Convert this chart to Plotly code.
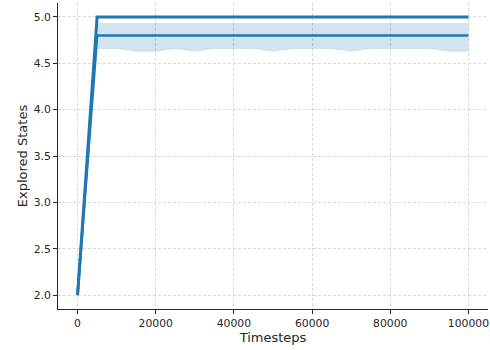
import plotly.graph_objects as go

# Evaluation steps
timesteps = [0, 5000, 10000, 15000, 20000, 25000, 30000, 35000, 40000, 45000, 50000,
             55000, 60000, 65000, 70000, 75000, 80000, 85000, 90000, 95000, 100000]

# Explored states: best run and mean across runs
max_states = [2.0, 5.0, 5.0, 5.0, 5.0, 5.0, 5.0, 5.0, 5.0, 5.0, 5.0,
              5.0, 5.0, 5.0, 5.0, 5.0, 5.0, 5.0, 5.0, 5.0, 5.0]
mean_states = [2.0, 4.8, 4.8, 4.8, 4.8, 4.8, 4.8, 4.8, 4.8, 4.8, 4.8,
               4.8, 4.8, 4.8, 4.8, 4.8, 4.8, 4.8, 4.8, 4.8, 4.8]

# Spread band around the mean
band_upper = [2.0, 4.93, 4.93, 4.93, 4.93, 4.93, 4.93, 4.93, 4.93, 4.93, 4.93,
              4.93, 4.93, 4.93, 4.93, 4.93, 4.93, 4.93, 4.93, 4.93, 4.93]
band_lower = [2.0, 4.66, 4.66, 4.63, 4.63, 4.66, 4.63, 4.66, 4.66, 4.66, 4.63,
              4.66, 4.66, 4.66, 4.63, 4.66, 4.66, 4.66, 4.66, 4.63, 4.63]

x_ticks = [0, 20000, 40000, 60000, 80000, 100000]
y_ticks = [2.0, 2.5, 3.0, 3.5, 4.0, 4.5, 5.0]

blue = "#1f77b4"
font_family = "DejaVu Sans"
text_color = "#262626"

fig = go.Figure()

fig.add_trace(go.Scatter(
    x=timesteps, y=band_lower, mode="lines",
    line=dict(color="rgba(31,119,180,0.15)", width=0.8),
    showlegend=False, hoverinfo="skip"))
fig.add_trace(go.Scatter(
    x=timesteps, y=band_upper, mode="lines", fill="tonexty",
    fillcolor="rgba(31,119,180,0.2)",
    line=dict(color="rgba(31,119,180,0.15)", width=0.8),
    showlegend=False, hoverinfo="skip"))

fig.add_trace(go.Scatter(
    x=timesteps, y=mean_states, mode="lines",
    line=dict(color=blue, width=2.6), showlegend=False))
fig.add_trace(go.Scatter(
    x=timesteps, y=max_states, mode="lines",
    line=dict(color=blue, width=3), showlegend=False))

axis_common = dict(
    showline=True, linecolor=text_color, linewidth=1,
    ticks="outside", ticklen=4, tickwidth=1, tickcolor=text_color,
    showgrid=True, gridcolor="#d9d9d9", gridwidth=0.8, griddash="3px,2px",
    zeroline=False, mirror=False,
    tickfont=dict(family=font_family, size=10.8, color=text_color),
)

fig.update_xaxes(
    range=[-5000, 105000], tickvals=x_ticks,
    ticktext=[str(v) for v in x_ticks],
    title=dict(text="Timesteps", font=dict(family=font_family, size=13, color=text_color),
               standoff=2),
    **axis_common)
fig.update_yaxes(
    range=[1.85, 5.15], tickvals=y_ticks,
    ticktext=[f"{v:.1f}" for v in y_ticks],
    title=dict(text="Explored States", font=dict(family=font_family, size=13, color=text_color),
               standoff=3),
    **axis_common)

fig.update_layout(
    width=490, height=350,
    margin=dict(l=58, r=2, t=3, b=41, autoexpand=False),
    paper_bgcolor="white", plot_bgcolor="white",
    showlegend=False,
)

fig.write_html("out.html")
